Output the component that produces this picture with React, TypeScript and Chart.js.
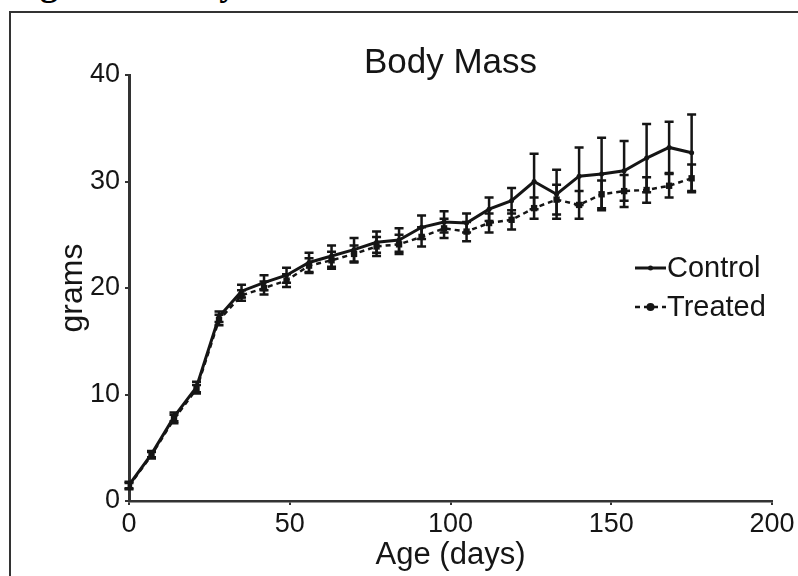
import React, { useEffect, useRef } from "react";
import { Chart, registerables } from "chart.js";

Chart.register(...registerables);

const ages = [0, 7, 14, 21, 28, 35, 42, 49, 56, 63, 70, 77, 84, 91, 98, 105, 112, 119, 126, 133, 140, 147, 154, 161, 168, 175];
const controlMass = [1.5, 4.4, 7.9, 10.7, 17.3, 19.7, 20.5, 21.2, 22.4, 23.0, 23.6, 24.3, 24.5, 25.7, 26.2, 26.1, 27.4, 28.2, 30.0, 28.8, 30.5, 30.7, 31.0, 32.2, 33.2, 32.7];
const controlErr = [0.3, 0.3, 0.4, 0.5, 0.5, 0.6, 0.7, 0.7, 0.9, 1.0, 1.1, 1.0, 1.1, 1.1, 1.0, 0.9, 1.1, 1.2, 2.6, 2.3, 2.7, 3.4, 2.8, 3.2, 2.4, 3.6];
const treatedMass = [1.4, 4.3, 7.7, 10.5, 17.0, 19.3, 20.0, 20.7, 22.1, 22.6, 23.2, 23.9, 24.1, 24.8, 25.6, 25.3, 26.1, 26.4, 27.5, 28.3, 27.8, 28.8, 29.1, 29.2, 29.6, 30.3];
const treatedErr = [0.3, 0.3, 0.4, 0.4, 0.5, 0.5, 0.6, 0.6, 0.7, 0.8, 0.8, 0.9, 0.9, 0.9, 0.9, 0.9, 0.9, 0.9, 1.0, 1.4, 1.3, 1.3, 1.5, 1.2, 1.1, 1.3];
const seriesNames = ["Control", "Treated"];
const chartTitle = "Body Mass";
const xTitle = "Age (days)";
const yTitle = "grams";
const figureCaption = "Figure 1: Body";
const xRange = [0, 200];
const xStep = 50;
const yRange = [0, 40];
const yStep = 10;

const FONT = "'Liberation Sans', Arial, sans-serif";
const INK = "#151515";
const AXIS = "#333333";

const errorsByDataset = [controlErr, treatedErr];

const errorBarPlugin = {
  id: "errorBars",
  afterDatasetsDraw(chart: any) {
    const ctx = chart.ctx;
    const xs = chart.scales.x;
    const ys = chart.scales.y;
    chart.data.datasets.forEach((ds: any, i: number) => {
      const errs = errorsByDataset[i];
      ctx.save();
      ctx.strokeStyle = INK;
      ctx.lineWidth = 2.5;
      ds.data.forEach((p: any, j: number) => {
        const px = xs.getPixelForValue(p.x);
        const top = ys.getPixelForValue(p.y + errs[j]);
        const bot = ys.getPixelForValue(p.y - errs[j]);
        ctx.beginPath();
        ctx.moveTo(px, top);
        ctx.lineTo(px, bot);
        ctx.moveTo(px - 4.5, top);
        ctx.lineTo(px + 4.5, top);
        ctx.moveTo(px - 4.5, bot);
        ctx.lineTo(px + 4.5, bot);
        ctx.stroke();
      });
      ctx.restore();
    });
  },
};

const titleLegendPlugin = {
  id: "titleLegend",
  afterDraw(chart: any) {
    const ctx = chart.ctx;
    const area = chart.chartArea;
    ctx.save();
    ctx.fillStyle = INK;
    ctx.font = `35px ${FONT}`;
    ctx.textAlign = "center";
    ctx.textBaseline = "alphabetic";
    ctx.fillText(chartTitle, (area.left + area.right) / 2, area.top - 2);
    const lx0 = area.right - 137;
    const lx1 = area.right - 106;
    const tx = area.right - 105;
    const rows = [
      { y: area.top + 193, dash: [] as number[], r: 2.5, lw: 3 },
      { y: area.top + 232, dash: [5, 4], r: 4, lw: 2.5 },
    ];
    rows.forEach((row, i) => {
      ctx.strokeStyle = INK;
      ctx.lineWidth = row.lw;
      ctx.setLineDash(row.dash);
      ctx.beginPath();
      ctx.moveTo(lx0, row.y);
      ctx.lineTo(lx1, row.y);
      ctx.stroke();
      ctx.setLineDash([]);
      ctx.fillStyle = INK;
      ctx.beginPath();
      ctx.arc((lx0 + lx1) / 2, row.y, row.r, 0, Math.PI * 2);
      ctx.fill();
      ctx.font = `29px ${FONT}`;
      ctx.textAlign = "left";
      ctx.textBaseline = "middle";
      ctx.fillText(seriesNames[i], tx, row.y + 1);
    });
    ctx.restore();
  },
};

export default function App() {
  const canvasRef = useRef<HTMLCanvasElement | null>(null);

  useEffect(() => {
    if (!canvasRef.current) return;
    const chart = new Chart(canvasRef.current, {
      type: "line",
      data: {
        datasets: [
          {
            label: seriesNames[0],
            data: ages.map((a, i) => ({ x: a, y: controlMass[i] })),
            borderColor: INK,
            backgroundColor: INK,
            borderWidth: 3,
            pointRadius: 2.5,
            pointBackgroundColor: INK,
            pointBorderWidth: 0,
            tension: 0,
          },
          {
            label: seriesNames[1],
            data: ages.map((a, i) => ({ x: a, y: treatedMass[i] })),
            borderColor: INK,
            backgroundColor: INK,
            borderWidth: 2.5,
            borderDash: [5, 4],
            pointRadius: 4.5,
            pointStyle: "rect",
            pointBackgroundColor: INK,
            pointBorderWidth: 0,
            tension: 0,
          },
        ],
      },
      options: {
        animation: false,
        responsive: false,
        maintainAspectRatio: false,
        layout: { padding: { left: 0, top: 75, right: 26, bottom: 0 } },
        plugins: {
          legend: { display: false },
          title: { display: false },
          tooltip: { enabled: false },
        },
        scales: {
          x: {
            type: "linear",
            min: xRange[0],
            max: xRange[1],
            ticks: { stepSize: xStep, color: INK, font: { family: FONT, size: 27 }, padding: 3, maxRotation: 0 },
            grid: { display: true, drawOnChartArea: false, drawTicks: true, tickLength: 4, color: AXIS, lineWidth: 2 },
            border: { display: true, color: AXIS, width: 2.5 },
            title: { display: true, text: xTitle, color: INK, font: { family: FONT, size: 31 }, padding: { top: 0, bottom: 2 } },
            afterFit: (s: any) => { s.height = 75; },
          },
          y: {
            type: "linear",
            min: yRange[0],
            max: yRange[1],
            ticks: { stepSize: yStep, color: INK, font: { family: FONT, size: 27 }, padding: 5 },
            grid: { display: true, drawOnChartArea: false, drawTicks: true, tickLength: 4, color: AXIS, lineWidth: 2 },
            border: { display: true, color: AXIS, width: 3 },
            title: { display: true, text: yTitle, color: INK, font: { family: FONT, size: 32 }, padding: { top: 54, bottom: 0 } },
            afterFit: (s: any) => { s.width = 129; },
          },
        },
      },
      plugins: [errorBarPlugin, titleLegendPlugin],
    });
    return () => chart.destroy();
  }, []);

  return (
    <div style={{ position: "fixed", left: 0, top: 0, width: 798, height: 576, overflow: "hidden", background: "#fff" }}>
      <div
        style={{
          position: "absolute",
          left: 8,
          top: -35,
          fontFamily: "'Liberation Serif', 'Times New Roman', serif",
          fontWeight: "bold",
          fontSize: 36,
          lineHeight: "36px",
          whiteSpace: "nowrap",
          color: "#000",
        }}
      >
        {figureCaption}
      </div>
      <div
        style={{
          position: "absolute",
          left: 9,
          top: 11,
          width: 900,
          height: 700,
          border: "2px solid #333",
          boxSizing: "border-box",
        }}
      />
      <canvas ref={canvasRef} width={798} height={576} style={{ position: "absolute", left: 0, top: 0 }} />
    </div>
  );
}
